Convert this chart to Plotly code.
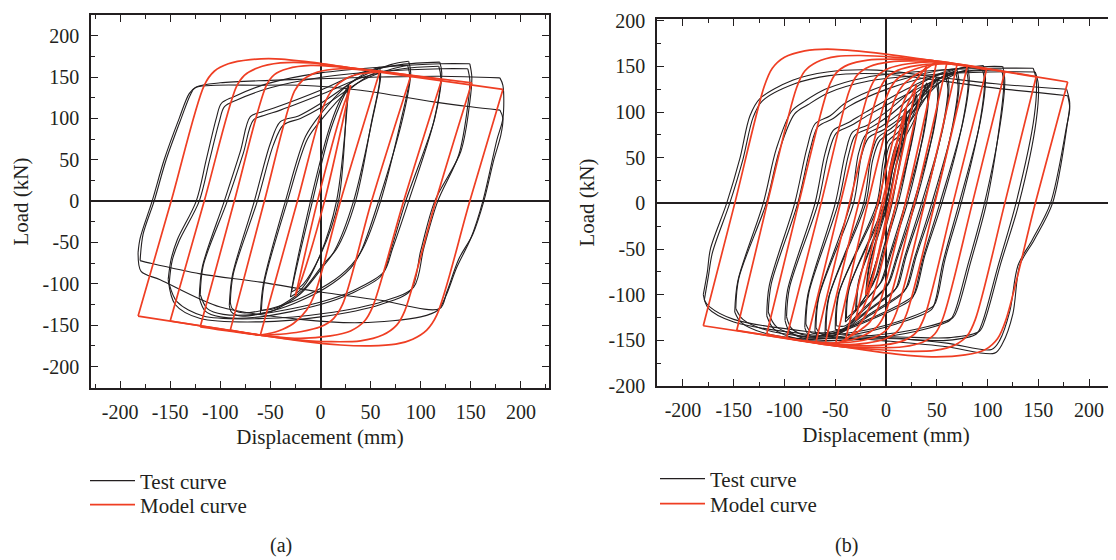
import plotly.graph_objects as go

# ---------------- axis ticks ----------------
DISP_TICKS = [-200, -150, -100, -50, 0, 50, 100, 150, 200]
DISP_TICK_TEXT = ["-200", "-150", "-100", "-50", "0", "50", "100", "150", "200"]
LOAD_TICKS = [-200, -150, -100, -50, 0, 50, 100, 150, 200]
LOAD_TICK_TEXT = ["-200", "-150", "-100", "-50", "0", "50", "100", "150", "200"]

SERIES = ["Test curve", "Model curve"]
CAPTIONS = ["(a)", "(b)"]

# ================= specimen (a) : test loops =================
# each loop split into an upper branch (negative end -> positive end)
# and a lower branch (positive end -> negative end)
A_TEST_UP_X = [
    [-30, -27, -10, 8, 18, 28],
    [-29, -26, -8, 9, 19, 27],
    [-60, -57, -35, -15, 0, 25, 45, 59],
    [-59, -56, -33, -13, 2, 26, 46, 58],
    [-91, -88, -66, -50, -40, -22, 0, 40, 70, 88],
    [-90, -87, -63, -47, -37, -20, 2, 42, 72, 87],
    [-121, -118, -96, -80, -70, -58, -43, 0, 40, 80, 119],
    [-120, -117, -93, -77, -67, -55, -40, 3, 43, 82, 118],
    [-152, -149, -143, -124, -114, -104, -99, -87, -53, 0, 60, 120, 149],
    [-151, -148, -141, -121, -111, -101, -96, -84, -50, 3, 62, 121, 147],
    [-182, -180, -168, -156, -141, -131, -124, -100, -50, 0, 60, 120, 179],
    [-180, -177, -166, -154, -139, -130, -125, -60, -20, 40, 113, 150, 179],
]
A_TEST_UP_Y = [
    [-116, -95, 0, 85, 118, 140],
    [-110, -92, 0, 82, 115, 136],
    [-136, -100, 0, 78, 105, 138, 155, 162],
    [-132, -98, 0, 75, 100, 132, 150, 157],
    [-126, -90, 0, 70, 96, 103, 118, 150, 165, 169],
    [-122, -88, 0, 68, 92, 100, 114, 146, 160, 164],
    [-117, -80, 0, 60, 102, 108, 114, 134, 155, 165, 168],
    [-113, -78, 0, 58, 98, 104, 110, 130, 150, 160, 163],
    [-95, -70, -47, 0, 50, 100, 118, 126, 142, 155, 162, 166, 166],
    [-100, -72, -48, 0, 48, 96, 114, 122, 137, 150, 157, 160, 160],
    [-62, -45, 0, 50, 100, 130, 138, 143, 146, 148, 150, 151, 149],
    [-72, -40, 0, 50, 100, 128, 137, 140, 140, 134, 120, 114, 110],
]
A_TEST_DN_X = [
    [28, 27, 16, -2, -18, -30],
    [27, 26, 18, 0, -17, -29],
    [59, 60, 52, 33, 14, 2, -20, -48, -60],
    [58, 59, 51, 35, 16, 3, -18, -46, -59],
    [88, 90, 82, 58, 40, 30, 5, -40, -80, -89, -91],
    [87, 89, 80, 60, 42, 31, 8, -38, -78, -88, -90],
    [119, 121, 114, 85, 70, 61, 30, 0, -60, -100, -115, -121],
    [118, 120, 113, 88, 72, 63, 33, 3, -57, -97, -113, -120],
    [149, 151, 149, 140, 114, 100, 90, 60, 0, -60, -120, -145, -152],
    [147, 149, 147, 138, 117, 103, 93, 63, 3, -57, -117, -143, -151],
    [179, 182, 182, 176, 162, 150, 136, 125, 117, 100, 40, -20, -100, -160, -179, -182],
    [179, 182, 180, 173, 163, 152, 138, 126, 119, 60, 0, -60, -120, -170, -180],
]
A_TEST_DN_Y = [
    [140, 120, 0, -70, -105, -116],
    [136, 115, 0, -65, -100, -110],
    [162, 150, 100, 0, -60, -80, -112, -133, -136],
    [157, 146, 96, 0, -58, -76, -108, -130, -132],
    [169, 155, 100, 0, -62, -81, -105, -130, -139, -134, -126],
    [164, 150, 96, 0, -58, -77, -100, -126, -135, -130, -122],
    [168, 155, 100, 0, -60, -90, -112, -125, -140, -140, -133, -117],
    [163, 150, 96, 0, -57, -86, -108, -121, -136, -137, -130, -113],
    [166, 150, 120, 60, 0, -60, -108, -125, -140, -146, -142, -125, -95],
    [160, 146, 116, 56, 0, -57, -104, -121, -136, -142, -139, -122, -100],
    [149, 140, 100, 74, 0, -45, -80, -115, -132, -140, -147, -143, -128, -95, -85, -62],
    [110, 100, 80, 50, 0, -40, -70, -110, -130, -120, -110, -98, -88, -75, -72],
]

# ================= specimen (a) : model loops =================
A_MODEL_UP_X = [
    [-25, -3, 22, 28, 30],
    [-60, -23, 3, 12, 25, 40, 59],
    [-90, -56, -26, -17, -3, 20, 40, 59, 90],
    [-120, -86, -54, -46, -33, -10, 20, 59, 121],
    [-150, -116, -84, -76, -63, -40, -10, 30, 59, 151],
    [-182, -149, -116, -106, -92, -70, -45, -10, 30, 59, 182],
]
A_MODEL_UP_Y = [
    [-115, 0, 112, 132, 140],
    [-162, 0, 115, 135, 148, 154, 156],
    [-156, 0, 133, 147, 156, 160, 159, 157, 151],
    [-152, 0, 140, 153, 160, 164, 162, 157, 147],
    [-145, 0, 138, 152, 161, 167, 167, 161, 157, 143],
    [-139, 0, 140, 157, 166, 171, 172, 168, 161, 156, 135],
]
A_MODEL_DN_X = [
    [30, 4, -19, -24, -25],
    [59, 20, -5, -14, -27, -42, -60],
    [90, 51, 22, 13, 0, -20, -40, -60, -90],
    [121, 83, 52, 44, 30, 10, -20, -60, -120],
    [151, 115, 84, 76, 62, 40, 10, -20, -60, -150],
    [182, 149, 116, 106, 92, 75, 50, 20, -20, -60, -182],
]
A_MODEL_DN_Y = [
    [140, 0, -95, -110, -115],
    [156, 0, -110, -132, -148, -157, -162],
    [151, 0, -125, -142, -152, -158, -161, -162, -156],
    [147, 0, -128, -145, -157, -163, -166, -162, -152],
    [143, 0, -133, -150, -162, -169, -170, -168, -162, -145],
    [135, 0, -138, -156, -167, -173, -175, -174, -169, -162, -139],
]

# ================= specimen (b) : test loops =================
B_TEST_UP_X = [
    [-20, -17, 0, 6, 12, 20],
    [-19, -16, 2, 8, 14, 19],
    [-30, -27, 0, 8, 15, 22, 30],
    [-29, -26, 2, 10, 17, 23, 29],
    [-40, -37, -2, 4, 10, 18, 28, 40],
    [-39, -36, 0, 6, 12, 20, 30, 39],
    [-50, -47, -9, -3, 2, 12, 25, 40, 50],
    [-49, -46, -7, -1, 4, 14, 27, 42, 49],
    [-60, -57, -22, -15, -8, 5, 22, 45, 60],
    [-59, -56, -20, -13, -6, 7, 24, 47, 59],
    [-70, -67, -35, -27, -20, -5, 15, 45, 70],
    [-69, -66, -32, -24, -17, -2, 18, 47, 69],
    [-80, -77, -50, -40, -33, -18, 0, 40, 80],
    [-79, -76, -47, -37, -30, -15, 3, 42, 79],
    [-99.5, -97, -70, -60, -52, -38, -20, 20, 60, 96],
    [-98, -95, -67, -57, -49, -35, -17, 23, 62, 95],
    [-117.5, -115, -90, -78, -70, -55, -40, 0, 50, 100, 115],
    [-116, -113, -87, -75, -67, -52, -37, 3, 52, 101, 114],
    [-149, -146, -121, -108, -93, -80, -60, -20, 40, 100, 145],
    [-148, -145, -118, -105, -90, -77, -57, -17, 43, 102, 147],
    [-180, -176, -173, -157, -144, -134, -124, -92, -58, -9, 53, 108, 178],
    [-179, -175, -171, -154, -141, -131, -122, -90, -56, -6, 56, 110, 179],
]
B_TEST_UP_Y = [
    [-100, -70, 0, 35, 60, 105],
    [-96, -67, 0, 33, 57, 100],
    [-118, -85, 0, 45, 70, 95, 120],
    [-114, -82, 0, 43, 67, 92, 116],
    [-130, -95, 0, 40, 65, 78, 100, 132],
    [-126, -92, 0, 38, 62, 75, 97, 128],
    [-138, -100, 0, 45, 68, 78, 98, 125, 138],
    [-134, -97, 0, 43, 65, 75, 95, 121, 134],
    [-142, -105, 0, 50, 72, 82, 100, 130, 142],
    [-138, -102, 0, 48, 69, 79, 97, 126, 138],
    [-140, -105, 0, 55, 75, 84, 100, 132, 146],
    [-136, -102, 0, 53, 72, 81, 97, 128, 142],
    [-136, -100, 0, 55, 78, 86, 100, 135, 150],
    [-132, -98, 0, 53, 75, 83, 96, 131, 146],
    [-128, -95, 0, 55, 80, 88, 100, 125, 145, 151],
    [-124, -92, 0, 53, 77, 85, 97, 121, 141, 147],
    [-123, -90, 0, 60, 87, 96, 110, 130, 145, 150, 150],
    [-119, -88, 0, 58, 84, 93, 106, 126, 141, 146, 146],
    [-119, -85, 0, 60, 101, 112, 125, 138, 145, 148, 148],
    [-115, -82, 0, 58, 98, 108, 121, 134, 141, 144, 144],
    [-100, -75, -50, 0, 49, 96, 115, 135, 144, 146, 138, 131, 125],
    [-106, -80, -54, 0, 48, 94, 112, 131, 140, 142, 134, 126, 118],
]
B_TEST_DN_X = [
    [20, 20, 14, 5, -4, -10, -20],
    [19, 19, 13, 6, -3, -9, -19],
    [30, 31, 25, 10, -4, -10, -22, -30],
    [29, 30, 24, 12, -2, -8, -20, -29],
    [40, 42, 37, 19, 3, -3, -6, -25, -40],
    [39, 41, 36, 21, 5, -1, -4, -23, -39],
    [50, 52, 47, 27, 10, 3, 0, -25, -42, -50],
    [49, 51, 46, 29, 12, 5, 2, -23, -40, -49],
    [60, 62, 56, 35, 18, 11, 8, -20, -45, -57, -60],
    [59, 61, 55, 37, 20, 13, 10, -18, -43, -55, -59],
    [70, 72, 66, 45, 28, 20, 15, -15, -45, -66, -70],
    [69, 71, 65, 47, 30, 22, 17, -13, -43, -64, -69],
    [80, 82, 76, 53, 36, 29, 25, -10, -50, -75, -80],
    [79, 81, 75, 55, 38, 31, 27, -7, -47, -73, -79],
    [96, 98, 93, 72, 56, 49, 45, 10, -40, -80, -95, -99.5],
    [95, 97, 92, 74, 58, 51, 47, 13, -37, -77, -93, -98],
    [115, 117, 113, 97, 80, 68, 63, 30, -20, -80, -110, -117.5],
    [114, 116, 112, 99, 83, 71, 66, 33, -17, -77, -108, -116],
    [145, 148, 146, 128, 110, 95, 89, 60, 0, -60, -120, -143, -149],
    [147, 150, 148, 131, 113, 98, 92, 63, 3, -57, -117, -141, -148],
    [178, 181, 179, 164, 146, 132, 125, 115, 107, 60, -6, -80, -150, -175, -180],
    [179, 181, 178, 162, 144, 130, 122, 112, 104, 60, -6, -80, -150, -174, -179],
]
B_TEST_DN_Y = [
    [105, 85, 45, 0, -40, -65, -100],
    [100, 82, 43, 0, -38, -62, -96],
    [120, 105, 65, 0, -55, -80, -105, -118],
    [116, 102, 62, 0, -52, -77, -102, -114],
    [132, 118, 75, 0, -58, -80, -88, -112, -130],
    [128, 115, 72, 0, -55, -77, -85, -109, -126],
    [138, 125, 80, 0, -60, -85, -92, -120, -138, -138],
    [134, 121, 77, 0, -57, -82, -89, -116, -134, -134],
    [142, 128, 82, 0, -60, -90, -96, -120, -142, -146, -142],
    [138, 125, 79, 0, -57, -87, -93, -117, -138, -142, -138],
    [146, 132, 85, 0, -60, -92, -100, -122, -142, -146, -140],
    [142, 129, 82, 0, -57, -89, -97, -119, -139, -143, -136],
    [150, 138, 90, 0, -62, -95, -105, -125, -142, -145, -136],
    [146, 134, 86, 0, -58, -91, -101, -122, -139, -142, -132],
    [151, 138, 90, 0, -65, -105, -116, -132, -145, -148, -140, -128],
    [147, 134, 86, 0, -62, -101, -112, -129, -142, -145, -137, -124],
    [150, 135, 90, 0, -70, -118, -128, -140, -148, -150, -138, -123],
    [146, 132, 87, 0, -66, -114, -125, -137, -145, -147, -135, -119],
    [148, 135, 95, 0, -70, -130, -143, -150, -148, -150, -142, -130, -119],
    [144, 131, 91, 0, -66, -126, -140, -147, -146, -148, -139, -127, -115],
    [125, 110, 90, 0, -40, -67, -121, -153, -164, -157, -150, -143, -130, -115, -100],
    [118, 104, 85, 0, -40, -68, -118, -150, -160, -153, -146, -140, -127, -113, -106],
]

# ================= specimen (b) : model loops =================
B_MODEL_UP_X = [
    [-20, -2, 16, 20],
    [-30, -4, 20, 27, 30],
    [-40, -8, 17, 25, 33, 40],
    [-50, -18, 9, 17, 28, 40, 50],
    [-60, -27, 1, 9, 20, 37, 60],
    [-69, -36, -8, 0, 12, 30, 50, 70],
    [-78, -45, -17, -9, 3, 22, 45, 80],
    [-98, -64, -36, -28, -16, 4, 30, 60, 99],
    [-117.5, -86, -57, -49, -37, -18, 10, 50, 117],
    [-147, -117, -88, -80, -68, -48, -25, 10, 50, 148],
    [-180, -149, -120, -112, -100, -80, -58, -20, 30, 179],
]
B_MODEL_UP_Y = [
    [-100, 0, 90, 105],
    [-128, 0, 105, 122, 130],
    [-150, 0, 110, 128, 140, 150],
    [-155.5, 0, 115, 130, 140, 148, 155.5],
    [-154, 0, 118, 134, 143, 150, 154],
    [-152, 0, 120, 137, 146, 151, 153, 152],
    [-150.5, 0, 122, 139, 148, 153, 155, 150],
    [-147.5, 0, 124, 141, 150, 155, 156, 154, 146.5],
    [-143, 0, 126, 143, 152, 157, 158, 156, 144],
    [-139, 0, 127, 145, 155, 161, 162, 160, 156, 139],
    [-134, 0, 128, 148, 160, 167, 169, 166, 159, 133],
]
B_MODEL_DN_X = [
    [20, 3, -15, -20],
    [30, 5, -19, -26, -30],
    [40, 10, -15, -23, -31, -40],
    [50, 19, -8, -16, -27, -39, -50],
    [60, 28, 0, -8, -19, -36, -60],
    [70, 38, 10, 2, -10, -28, -48, -69],
    [80, 48, 20, 12, 0, -19, -42, -78],
    [99, 66, 38, 30, 18, -2, -28, -60, -98],
    [117, 85, 56, 48, 36, 17, -10, -50, -117.5],
    [148, 117, 88, 80, 68, 48, 25, -10, -50, -147],
    [179, 147, 118, 110, 98, 78, 45, 10, -30, -180],
]
B_MODEL_DN_Y = [
    [105, 0, -88, -100],
    [130, 0, -105, -122, -128],
    [150, 0, -110, -128, -140, -150],
    [155.5, 0, -115, -130, -140, -148, -155.5],
    [154, 0, -118, -134, -143, -150, -154],
    [152, 0, -120, -137, -146, -151, -153, -152],
    [150, 0, -122, -139, -148, -153, -155, -150.5],
    [146.5, 0, -124, -141, -150, -155, -156, -154, -147.5],
    [144, 0, -126, -143, -152, -157, -158, -156, -143],
    [139, 0, -127, -145, -155, -161, -162, -160, -156, -139],
    [133, 0, -128, -148, -160, -166, -168, -165, -159, -134],
]

# ---------------- styling ----------------
BLACK = "#231f20"
RED = "#ef3e23"
FONT = "Liberation Serif"

fig = go.Figure()


def add_loops(upx, upy, dnx, dny, xa, ya, color, width, name, legend):
    first = True
    for i in range(len(upx)):
        for xs, ys in ((upx[i], upy[i]), (dnx[i], dny[i])):
            fig.add_trace(go.Scatter(
                x=xs, y=ys, mode="lines", name=name,
                line=dict(color=color, width=width, shape="spline", smoothing=0.9),
                xaxis=xa, yaxis=ya, legend=legend, legendgroup=name + legend,
                showlegend=first, hoverinfo="skip"))
            first = False


add_loops(A_TEST_UP_X, A_TEST_UP_Y, A_TEST_DN_X, A_TEST_DN_Y, "x", "y", BLACK, 1.1, SERIES[0], "legend")
add_loops(A_MODEL_UP_X, A_MODEL_UP_Y, A_MODEL_DN_X, A_MODEL_DN_Y, "x", "y", RED, 1.7, SERIES[1], "legend2")
add_loops(B_TEST_UP_X, B_TEST_UP_Y, B_TEST_DN_X, B_TEST_DN_Y, "x2", "y2", BLACK, 1.1, SERIES[0], "legend3")
add_loops(B_MODEL_UP_X, B_MODEL_UP_Y, B_MODEL_DN_X, B_MODEL_DN_Y, "x2", "y2", RED, 1.7, SERIES[1], "legend4")

W, H = 1116, 560
OFF = 8  # the page body adds an 8 px offset; layout positions below are in page pixels minus OFF
tickfont = dict(family=FONT, size=20, color=BLACK)


def px_x(p):
    return (p - OFF) / W


def px_y(p):
    return 1 - (p - OFF) / H


def xaxis(domain, rng, anchor):
    return dict(domain=domain, range=rng, anchor=anchor, automargin=False,
                tickvals=DISP_TICKS, ticktext=DISP_TICK_TEXT,
                ticks="inside", ticklen=7, tickwidth=1.3, tickcolor=BLACK,
                minor=dict(ticks="inside", ticklen=4, dtick=25, tick0=0, tickcolor=BLACK, tickwidth=1.3),
                showline=True, linecolor=BLACK, linewidth=1.5, mirror="ticks",
                showgrid=False, zeroline=True, zerolinecolor=BLACK, zerolinewidth=1.5,
                tickfont=tickfont, ticklabelstandoff=5, ticklabeloverflow="allow",
                title=dict(text="Displacement (mm)", font=dict(family=FONT, size=21, color=BLACK), standoff=8))


def yaxis(domain, rng, anchor):
    return dict(domain=domain, range=rng, anchor=anchor, automargin=False,
                tickvals=LOAD_TICKS, ticktext=LOAD_TICK_TEXT,
                ticks="inside", ticklen=7, tickwidth=1.3, tickcolor=BLACK,
                minor=dict(ticks="inside", ticklen=4, dtick=25, tick0=0, tickcolor=BLACK, tickwidth=1.3),
                showline=True, linecolor=BLACK, linewidth=1.5, mirror="ticks",
                showgrid=False, zeroline=True, zerolinecolor=BLACK, zerolinewidth=1.5,
                tickfont=tickfont, ticklabelstandoff=6, ticklabeloverflow="allow",
                title=dict(text="Load (kN)", font=dict(family=FONT, size=21, color=BLACK), standoff=8))


legend_common = dict(font=dict(family=FONT, size=21, color=BLACK), bgcolor="rgba(0,0,0,0)",
                     borderwidth=0, xanchor="left", yanchor="middle", traceorder="normal",
                     itemwidth=45, tracegroupgap=0)

fig.update_layout(
    width=W, height=H, margin=dict(l=0, r=0, t=0, b=0, pad=0, autoexpand=False),
    paper_bgcolor="white", plot_bgcolor="white",
    font=dict(family=FONT, size=20, color=BLACK),
    xaxis=xaxis([px_x(91), px_x(549)], [-229, 228], "y"),
    yaxis=yaxis([px_y(388), px_y(15)], [-226, 225], "x"),
    xaxis2=xaxis([px_x(657), px_x(1115)], [-225.6, 225.6], "y2"),
    yaxis2=yaxis([px_y(386), px_y(19)], [-200, 202], "x2"),
    legend=dict(x=px_x(85), y=px_y(481), **legend_common),
    legend2=dict(x=px_x(85), y=px_y(505), **legend_common),
    legend3=dict(x=px_x(655), y=px_y(479), **legend_common),
    legend4=dict(x=px_x(655), y=px_y(504), **legend_common),
    annotations=[
        dict(text=CAPTIONS[0], x=px_x(281), y=px_y(545), xref="paper", yref="paper",
             xanchor="center", yanchor="middle",
             showarrow=False, font=dict(family=FONT, size=20, color=BLACK)),
        dict(text=CAPTIONS[1], x=px_x(846), y=px_y(545), xref="paper", yref="paper",
             xanchor="center", yanchor="middle",
             showarrow=False, font=dict(family=FONT, size=20, color=BLACK)),
    ],
)

fig.write_html("out.html")
